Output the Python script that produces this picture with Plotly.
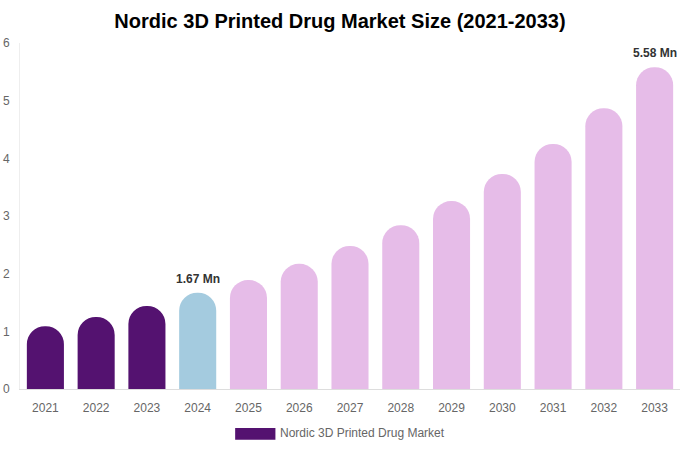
import plotly.graph_objects as go

years = ["2021", "2022", "2023", "2024", "2025", "2026", "2027", "2028", "2029", "2030", "2031", "2032", "2033"]
values = [1.09, 1.25, 1.44, 1.67, 1.89, 2.17, 2.48, 2.84, 3.26, 3.73, 4.25, 4.87, 5.58]
colors = ["#541270"] * 3 + ["#A4CBDF"] + ["#E6BCE8"] * 9
labeled = {"2024": "1.67 Mn", "2033": "5.58 Mn"}
y_ticks = [0, 1, 2, 3, 4, 5, 6]
legend_name = "Nordic 3D Printed Drug Market"

fig = go.Figure()
fig.add_trace(go.Bar(
    x=years, y=values,
    marker=dict(color=colors, cornerradius=18, line=dict(width=0)),
    name=legend_name, showlegend=False, hoverinfo="x+y",
))

for yr, txt in labeled.items():
    i = years.index(yr)
    fig.add_annotation(
        x=i, y=values[i], text="<b>" + txt + "</b>",
        showarrow=False, yanchor="bottom", yshift=5,
        font=dict(size=12, color="#333333", family="Liberation Sans, Arial, sans-serif"),
    )

# legend (custom)
fig.add_shape(type="rect", xref="paper", yref="paper",
              x0=0.326, x1=0.387, y0=-0.113, y1=-0.147,
              fillcolor="#541270", line=dict(width=0))
fig.add_annotation(xref="paper", yref="paper", x=0.391, y=-0.128,
                   text=legend_name, showarrow=False, xanchor="left", yanchor="middle",
                   font=dict(size=12, color="#666666", family="Liberation Sans, Arial, sans-serif"))

fig.update_layout(
    width=680, height=450,
    margin=dict(l=20, r=0, t=43, b=61),
    paper_bgcolor="white", plot_bgcolor="white",
    bargap=0.27,
    font=dict(family="Liberation Sans, Arial, sans-serif"),
    title=dict(text="<b>Nordic 3D Printed Drug Market Size (2021-2033)</b>",
               x=0.5, xanchor="center", y=0.953, yanchor="middle",
               font=dict(size=20, color="#000000")),
    xaxis=dict(type="category", range=[-0.5, len(years) - 0.5], showgrid=False, showline=True,
               linecolor="#dddddd", linewidth=1, ticklabelstandoff=8,
               ticks="", tickfont=dict(size=12, color="#666666"), fixedrange=True),
    yaxis=dict(range=[0, 6], tickvals=y_ticks, showgrid=False, showline=True,
               linecolor="#eeeeee", linewidth=1, zeroline=False, ticks="",
               tickfont=dict(size=12, color="#666666"), ticklabelstandoff=7),
)

fig.write_html("out.html", config={"displayModeBar": False},
               post_script="document.body.style.margin='0';")
